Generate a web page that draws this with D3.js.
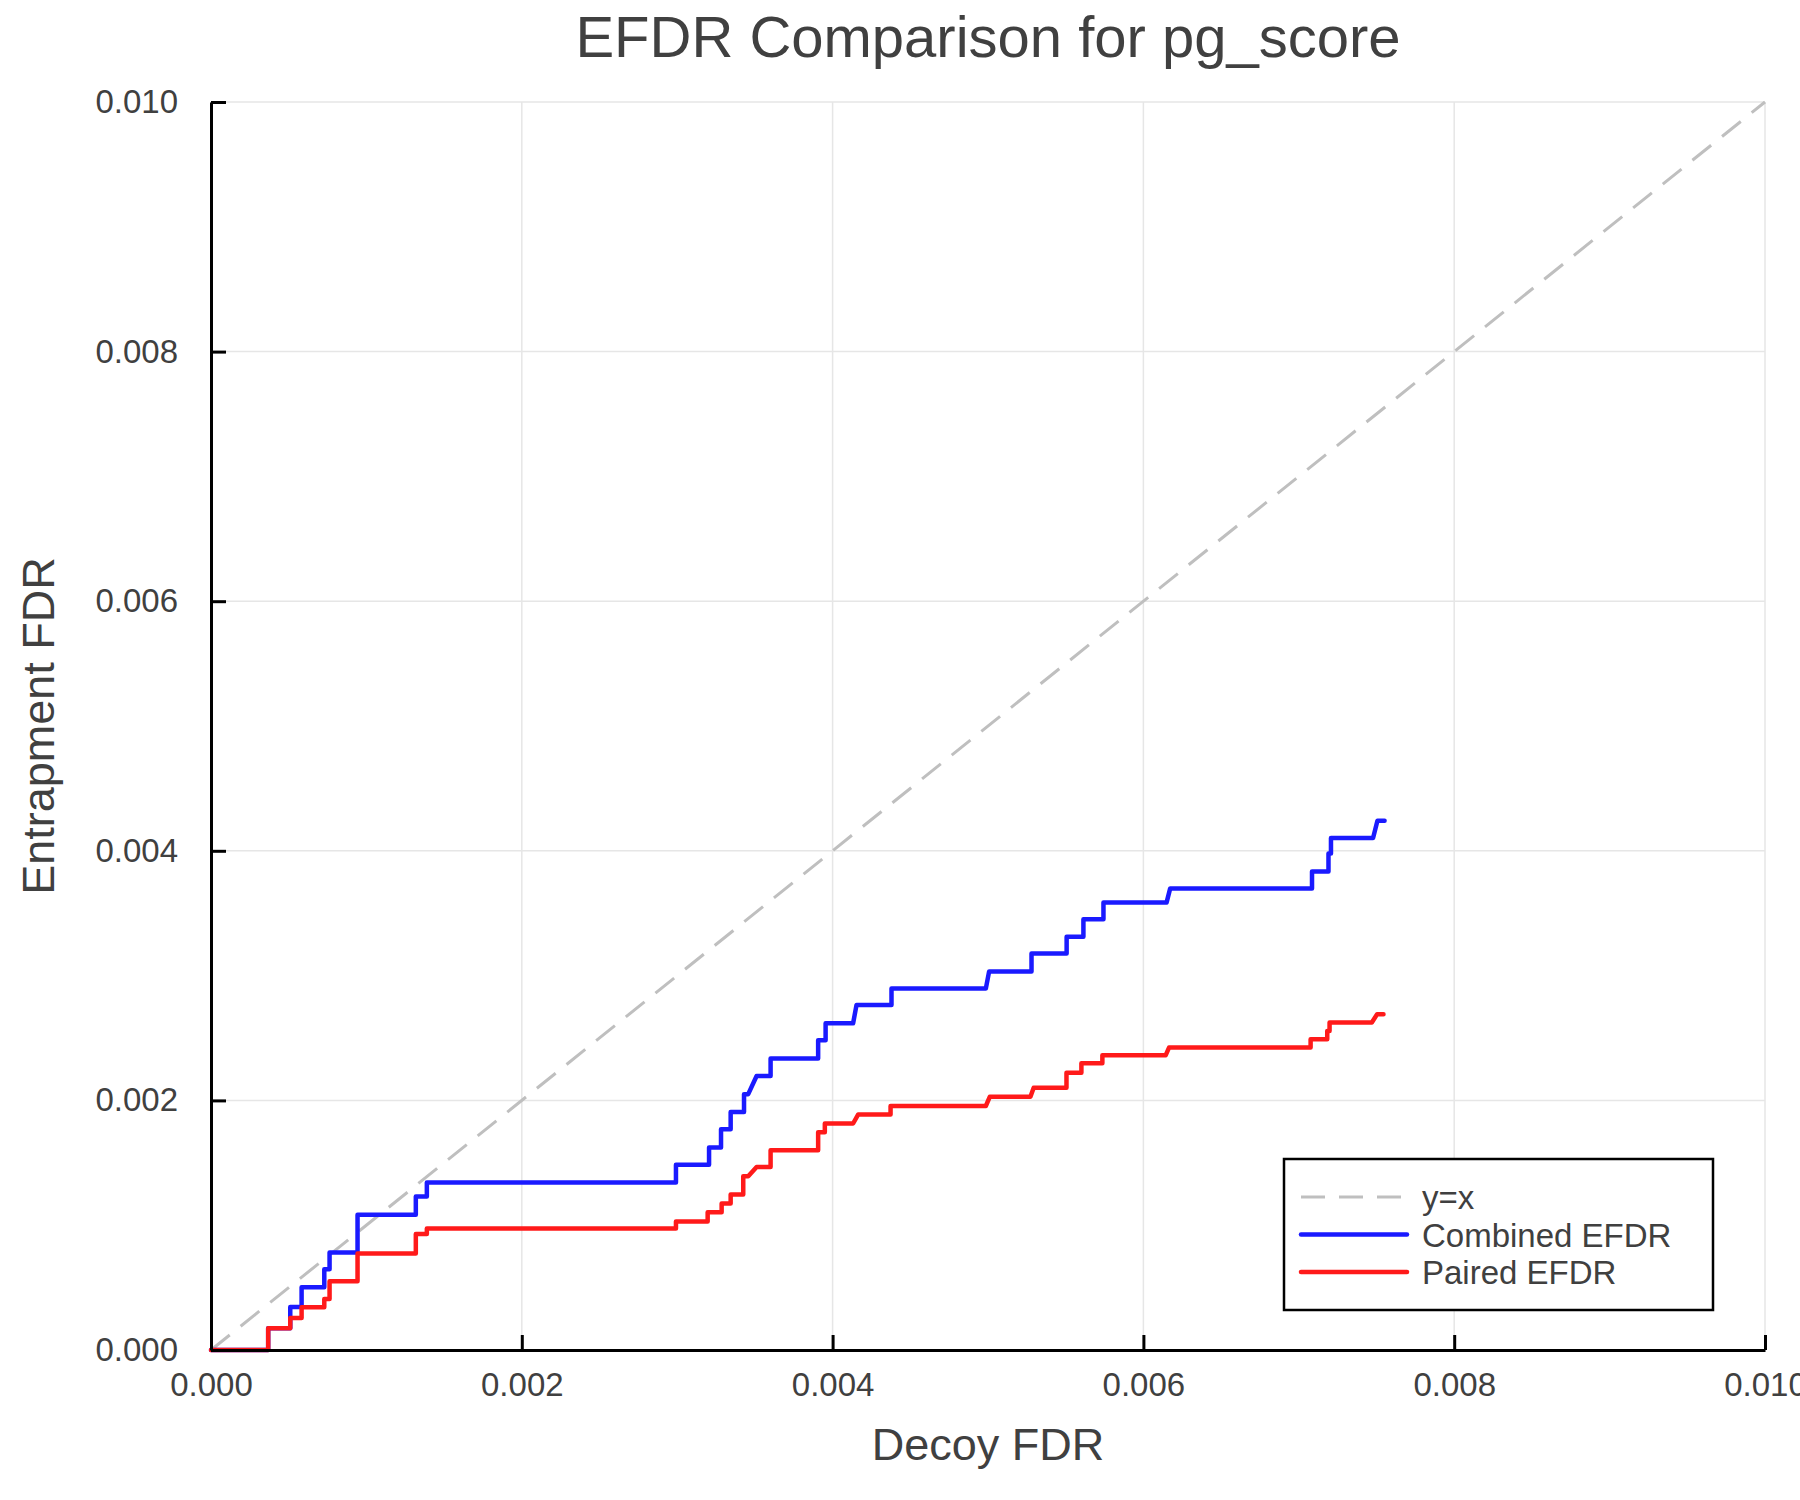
<!DOCTYPE html>
<html>
<head>
<meta charset="utf-8">
<script src="https://cdn.jsdelivr.net/npm/d3@7"></script>
<style>
  body { margin: 0; background: #fff; }
  text { font-family: "Liberation Sans", Arial, Helvetica, sans-serif; fill: #404040; }
</style>
</head>
<body>
<div id="chart"></div>
<script>
// axis ticks
const tickValues = [0, 0.002, 0.004, 0.006, 0.008, 0.010];
const tickLabels = ['0.000', '0.002', '0.004', '0.006', '0.008', '0.010'];

// Combined EFDR (blue) vertices
const combinedX = [0, 0.000368, 0.000368, 0.00051, 0.00051, 0.000583, 0.000583, 0.000729, 0.000729, 0.000763,
  0.000763, 0.000943, 0.000943, 0.001318, 0.001318, 0.001389, 0.001389, 0.002992, 0.002992, 0.003205,
  0.003205, 0.003282, 0.003282, 0.003344, 0.003344, 0.00343, 0.00343, 0.003457, 0.003511, 0.003601,
  0.003601, 0.003907, 0.003907, 0.003955, 0.003955, 0.004132, 0.004154, 0.004379, 0.004379, 0.004986,
  0.005007, 0.00528, 0.00528, 0.005506, 0.005506, 0.005614, 0.005614, 0.005743, 0.005743, 0.006149,
  0.006172, 0.007085, 0.007085, 0.007191, 0.007191, 0.007207, 0.007207, 0.007478, 0.007506, 0.007552];
const combinedY = [0, 0, 0.000174, 0.000174, 0.000344, 0.000344, 0.000502, 0.000502, 0.000648, 0.000648,
  0.000782, 0.000782, 0.001083, 0.001083, 0.00123, 0.00123, 0.001343, 0.001343, 0.001484, 0.001484,
  0.001623, 0.001623, 0.001769, 0.001769, 0.001908, 0.001908, 0.00205, 0.00205, 0.002196, 0.002196,
  0.002335, 0.002335, 0.002482, 0.002482, 0.002618, 0.002618, 0.002765, 0.002765, 0.002896, 0.002896,
  0.003032, 0.003032, 0.003178, 0.003178, 0.003312, 0.003312, 0.003451, 0.003451, 0.003585, 0.003585,
  0.003697, 0.003697, 0.003834, 0.003834, 0.003979, 0.003979, 0.004102, 0.004102, 0.004241, 0.004241];

// Paired EFDR (red) vertices
const pairedX = [0, 0.000368, 0.000368, 0.00051, 0.00051, 0.000583, 0.000583, 0.000729, 0.000729, 0.000763,
  0.000763, 0.000943, 0.000943, 0.001318, 0.001318, 0.001389, 0.001389, 0.002992, 0.002992, 0.003196,
  0.003196, 0.003286, 0.003286, 0.003344, 0.003344, 0.003425, 0.003425, 0.003457, 0.003511, 0.003601,
  0.003601, 0.003907, 0.003907, 0.00395, 0.00395, 0.004132, 0.004165, 0.004373, 0.004373, 0.004986,
  0.005012, 0.005273, 0.005294, 0.005505, 0.005505, 0.005601, 0.005601, 0.005736, 0.005736, 0.006143,
  0.006165, 0.007076, 0.007076, 0.007183, 0.007183, 0.007198, 0.007198, 0.00747, 0.007504, 0.007545];
const pairedY = [0, 0, 0.000174, 0.000174, 0.000256, 0.000256, 0.000342, 0.000342, 0.000408, 0.000408,
  0.00055, 0.00055, 0.000774, 0.000774, 0.000929, 0.000929, 0.000974, 0.000974, 0.00103, 0.00103,
  0.001103, 0.001103, 0.001173, 0.001173, 0.001245, 0.001245, 0.001392, 0.001392, 0.001467, 0.001467,
  0.001601, 0.001601, 0.001745, 0.001745, 0.001815, 0.001815, 0.001888, 0.001888, 0.001955, 0.001955,
  0.00203, 0.00203, 0.002102, 0.002102, 0.002222, 0.002222, 0.002297, 0.002297, 0.002361, 0.002361,
  0.002423, 0.002423, 0.00249, 0.00249, 0.002557, 0.002557, 0.002624, 0.002624, 0.002691, 0.002691];

// y = x reference
const refX = [0, 0.010];
const refY = [0, 0.010];

const seriesNames = ['y=x', 'Combined EFDR', 'Paired EFDR'];

const width = 1800;
const height = 1500;
const margin = { left: 211, right: 35, top: 102, bottom: 150 };

const svg = d3.select('#chart')
  .append('svg')
  .attr('width', width)
  .attr('height', height);

svg.append('rect').attr('width', width).attr('height', height).attr('fill', '#fff');

const x = d3.scaleLinear().domain([0, 0.010]).range([margin.left, width - margin.right]);
const y = d3.scaleLinear().domain([0, 0.010]).range([height - margin.bottom, margin.top]);

// grid
svg.append('g')
  .selectAll('line')
  .data(tickValues)
  .enter().append('line')
  .attr('x1', d => x(d)).attr('x2', d => x(d))
  .attr('y1', y(0)).attr('y2', y(0.010))
  .attr('stroke', '#e6e6e6')
  .attr('stroke-width', 1.5);

svg.append('g')
  .selectAll('line')
  .data(tickValues)
  .enter().append('line')
  .attr('x1', x(0)).attr('x2', x(0.010))
  .attr('y1', d => y(d)).attr('y2', d => y(d))
  .attr('stroke', '#e6e6e6')
  .attr('stroke-width', 1.5);

// series
const line = d3.line()
  .x(d => x(d[0]))
  .y(d => y(d[1]));

const zip = (xs, ys) => xs.map((v, i) => [v, ys[i]]);

svg.append('path')
  .datum(zip(refX, refY))
  .attr('d', line)
  .attr('fill', 'none')
  .attr('stroke', '#bfbfbf')
  .attr('stroke-width', 3)
  .attr('stroke-dasharray', '24,14');

svg.append('path')
  .datum(zip(combinedX, combinedY))
  .attr('d', line)
  .attr('fill', 'none')
  .attr('stroke', '#1a1aff')
  .attr('stroke-width', 4.5)
  .attr('stroke-linejoin', 'round')
  .attr('stroke-linecap', 'round');

svg.append('path')
  .datum(zip(pairedX, pairedY))
  .attr('d', line)
  .attr('fill', 'none')
  .attr('stroke', '#ff1a1a')
  .attr('stroke-width', 4.5)
  .attr('stroke-linejoin', 'round')
  .attr('stroke-linecap', 'round');

// axes
const xAxis = d3.axisBottom(x)
  .tickValues(tickValues)
  .tickFormat((d, i) => tickLabels[i])
  .tickSizeInner(-15)
  .tickSizeOuter(0)
  .tickPadding(23);

const yAxis = d3.axisLeft(y)
  .tickValues(tickValues)
  .tickFormat((d, i) => tickLabels[i])
  .tickSizeInner(-15)
  .tickSizeOuter(0)
  .tickPadding(33);

const gx = svg.append('g')
  .attr('transform', `translate(0,${y(0)})`)
  .call(xAxis);

const gy = svg.append('g')
  .attr('transform', `translate(${x(0)},0)`)
  .call(yAxis);

[gx, gy].forEach(g => {
  g.select('.domain').attr('stroke', '#000').attr('stroke-width', 3);
  g.selectAll('.tick line').attr('stroke', '#000').attr('stroke-width', 3);
  g.selectAll('.tick text')
    .attr('fill', '#404040')
    .style('font-family', '"Liberation Sans", Arial, sans-serif')
    .style('font-size', '33px');
});

// title and axis labels
svg.append('text')
  .attr('x', (x(0) + x(0.010)) / 2)
  .attr('y', 57)
  .attr('text-anchor', 'middle')
  .style('font-size', '58px')
  .text('EFDR Comparison for pg_score');

svg.append('text')
  .attr('x', (x(0) + x(0.010)) / 2)
  .attr('y', 1460)
  .attr('text-anchor', 'middle')
  .style('font-size', '45px')
  .text('Decoy FDR');

svg.append('text')
  .attr('transform', `translate(54,${(y(0) + y(0.010)) / 2}) rotate(-90)`)
  .attr('text-anchor', 'middle')
  .style('font-size', '45px')
  .text('Entrapment FDR');

// legend
const legend = svg.append('g').attr('transform', 'translate(1284,1159)');

legend.append('rect')
  .attr('width', 429)
  .attr('height', 151)
  .attr('fill', '#fff')
  .attr('stroke', '#000')
  .attr('stroke-width', 2.5);

const legendStyles = [
  { color: '#bfbfbf', dash: '24,14', w: 3 },
  { color: '#1a1aff', dash: null, w: 4.5 },
  { color: '#ff1a1a', dash: null, w: 4.5 }
];

const rows = legend.selectAll('g.row')
  .data(seriesNames)
  .enter().append('g')
  .attr('class', 'row')
  .attr('transform', (d, i) => `translate(0,${38 + i * 37.5})`);

rows.append('line')
  .attr('x1', 17).attr('x2', 123)
  .attr('y1', 0).attr('y2', 0)
  .attr('stroke', (d, i) => legendStyles[i].color)
  .attr('stroke-width', (d, i) => legendStyles[i].w)
  .attr('stroke-dasharray', (d, i) => legendStyles[i].dash)
  .attr('stroke-linecap', (d, i) => legendStyles[i].dash ? 'butt' : 'round');

rows.append('text')
  .attr('x', 138)
  .attr('y', 12)
  .style('font-size', '33px')
  .text(d => d);
</script>
</body>
</html>
